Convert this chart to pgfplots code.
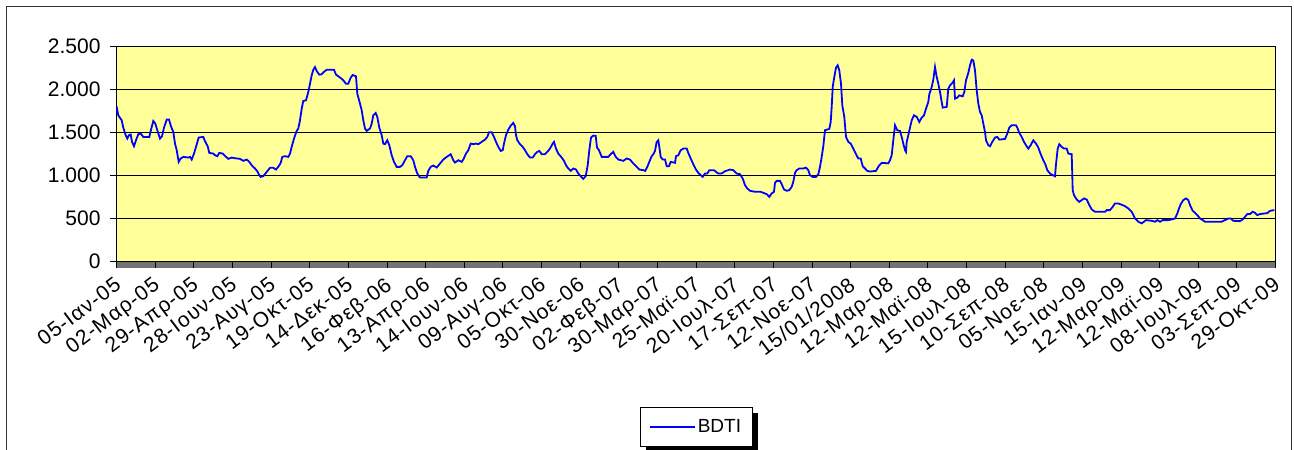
\documentclass[border=0pt]{standalone}
\usepackage{pgfplots}
\pgfplotsset{compat=1.18}
\usepackage{pgfplotstable}
\usepackage{fontspec}
\setmainfont{Liberation Sans}
\newfontfamily\xlabfont[LetterSpace=5]{Liberation Sans}
\pgfdeclarelayer{background}
\pgfsetlayers{background,main}
\definecolor{plotyellow}{RGB}{255,255,153}
\definecolor{bdtiblue}{RGB}{0,0,255}

\pgfplotstableread{
x y
0 1801
1.8 1697
5.2 1639
6.8 1554
9.2 1466
10.8 1427
12.5 1466
14.2 1474
15.5 1389
17.5 1338
19.5 1408
21.8 1477
24.2 1485
26.8 1446
32.8 1446
34.8 1543
36.8 1631
38.8 1601
40.8 1523
43.5 1427
45.5 1454
47.5 1554
50.2 1647
52.5 1647
54.5 1570
56.8 1504
58.5 1369
60.2 1292
62.2 1157
64.2 1196
66.8 1215
71.8 1207
73.5 1215
75.2 1184
77.5 1253
79.5 1331
82.2 1439
86.8 1446
88.8 1389
91.2 1338
92.8 1261
96.8 1253
98.5 1234
100.8 1223
102.8 1261
106.2 1253
108.5 1226
111.8 1192
115.2 1207
118.5 1199
123.5 1192
126.8 1169
130.2 1184
132.8 1157
135.2 1118
138.5 1080
140.8 1049
142.8 1003
144.2 983
146.8 991
150.2 1041
153.5 1088
156.8 1088
159.5 1068
162.2 1107
164.2 1146
165.8 1215
168.5 1223
171.8 1215
173.5 1253
175.2 1331
177.5 1427
180.2 1516
181.8 1543
183.5 1639
185.2 1774
186.8 1863
189.5 1871
191.8 1967
193.5 2063
195.2 2160
196.8 2225
198.5 2256
200.2 2210
202.8 2168
205.2 2172
206.8 2194
210.2 2225
217.5 2225
219.5 2168
222.8 2141
226.2 2110
229.5 2063
231.8 2063
234.2 2133
236.2 2164
239.5 2149
240.8 1948
242.8 1863
245.2 1755
246.8 1639
248.5 1543
250.2 1516
251.8 1531
253.5 1543
255.2 1601
256.8 1697
259.2 1724
260.8 1678
262.8 1554
265.2 1466
266.8 1369
268.5 1362
270.8 1408
272.8 1350
275.2 1234
277.5 1157
280.2 1099
283.5 1099
285.8 1118
288.5 1176
290.8 1223
294.2 1223
296.8 1176
298.5 1099
300.8 1022
303.5 976
310.2 976
311.8 1053
314.2 1099
316.8 1115
320.2 1091
323.5 1138
326.8 1184
330.2 1215
334.2 1246
336.8 1176
338.5 1149
341.8 1176
345.2 1157
346.8 1184
349.5 1253
351.8 1292
354.2 1369
356.8 1362
359.5 1369
361.8 1362
365.2 1389
368.5 1415
370.8 1446
372.5 1500
375.2 1500
377.5 1446
379.5 1389
381.8 1331
384.2 1284
386.2 1292
387.5 1369
389.5 1466
391.8 1531
394.5 1581
396.8 1608
398.5 1570
399.5 1466
400.8 1408
403.5 1362
406.2 1331
408.5 1292
410.8 1246
413.5 1207
416.2 1207
418.5 1246
420.8 1273
422.8 1284
425.2 1246
428.5 1246
430.8 1273
433.5 1311
436.2 1369
437.5 1389
439.5 1311
441.8 1253
445.2 1207
447.5 1169
449.5 1118
451.8 1080
454.2 1053
456.8 1080
459.5 1068
461.8 1022
464.2 991
466.8 960
469.2 991
471.2 1118
472.8 1292
474.5 1439
476.8 1462
479.2 1458
480.5 1323
482.5 1292
485.2 1215
491.8 1215
494.2 1246
496.8 1273
499.2 1215
501.8 1184
506.8 1169
510.2 1196
513.5 1184
516.8 1138
520.2 1099
522.8 1068
526.8 1061
528.8 1053
530.8 1099
532.8 1157
535.2 1223
536.8 1246
538.5 1284
540.2 1389
541.8 1408
542.8 1331
544.2 1215
546.2 1184
548.5 1184
550.2 1107
552.5 1107
554.2 1157
558.5 1146
559.5 1223
561.8 1234
564.2 1292
566.8 1311
570.2 1311
571.8 1261
574.2 1196
576.8 1130
579.5 1068
581.8 1030
584.2 1003
586.2 983
588.5 1022
590.8 1022
592.8 1061
597.5 1061
599.5 1041
601.8 1022
605.2 1022
608.5 1049
613.5 1068
616.8 1061
620.2 1022
623.5 1014
626.2 964
628.5 887
630.8 849
633.5 822
638.5 810
644.2 810
646.8 798
650.2 783
652.8 752
655.2 791
657.5 810
658.5 914
660.2 937
663.5 937
665.2 899
667.5 837
670.2 822
672.8 829
675.2 868
676.8 926
678.5 1030
680.2 1061
682.8 1080
686.8 1080
689.5 1091
691.8 1061
693.5 1003
696.2 983
699.5 983
701.8 1014
703.5 1099
705.2 1215
706.8 1338
708.5 1524
712.8 1539
714.2 1620
715.2 1794
716.2 2025
717.5 2121
719.5 2249
721.2 2276
722.8 2218
724.5 2063
725.8 1813
727.8 1678
729.5 1446
731.8 1389
734.2 1369
736.8 1311
739.5 1246
741.8 1196
744.2 1196
746.2 1107
748.5 1080
750.8 1053
753.5 1045
759.5 1053
760.8 1080
762.8 1118
765.2 1146
771.8 1140
773.5 1176
775.2 1234
776.8 1408
778.5 1581
780.8 1523
783.5 1516
785.2 1446
786.8 1369
788.5 1292
789.5 1273
790.2 1389
791.8 1466
793.5 1554
795.2 1639
797.5 1697
800.2 1678
802.8 1620
805.2 1670
807.5 1697
809.5 1774
811.8 1851
812.8 1940
815.2 2025
816.8 2110
818.5 2256
820.2 2141
821.8 2063
823.5 1967
825.2 1851
826.2 1786
830.2 1794
831.8 2006
833.5 2044
835.8 2071
837.5 2102
838.5 1890
840.8 1901
842.8 1928
846.2 1917
847.8 1967
849.5 2102
851.8 2187
853.5 2276
855.2 2341
856.8 2333
858.5 2218
860.2 1986
861.8 1832
863.5 1736
865.2 1697
866.8 1601
868.5 1504
869.5 1408
871.8 1350
873.5 1338
875.8 1389
878.5 1439
880.8 1446
882.8 1415
888.5 1423
890.8 1485
892.8 1554
895.2 1581
899.5 1581
900.8 1554
902.8 1493
905.2 1446
907.5 1389
909.5 1350
911.8 1311
914.2 1350
916.8 1408
919.5 1369
921.8 1323
924.2 1246
926.8 1176
928.8 1130
930.8 1061
933.5 1022
936.2 1003
938.5 991
939.5 1130
941.2 1311
942.8 1362
945.2 1331
947.5 1311
950.2 1311
951.8 1253
955.2 1246
956.2 829
957.5 771
960.2 721
962.8 694
965.2 714
967.5 733
970.2 721
972.8 656
975.2 606
978.5 579
988.5 579
990.2 598
993.5 598
996.2 636
998.5 675
1001.8 675
1005.2 660
1008.5 644
1011.8 617
1015.2 579
1018.5 501
1021.8 463
1025.2 444
1029.5 482
1035.2 474
1038.5 463
1040.8 482
1043.5 463
1046.2 482
1051.8 482
1055.2 490
1058.5 501
1060.8 559
1062.5 617
1064.2 667
1066.8 714
1069.5 733
1071.8 714
1073.5 656
1076.2 590
1078.5 567
1080.8 540
1083.5 501
1086.2 482
1088.5 463
1105.2 463
1108.5 482
1111.8 501
1114.2 501
1116.8 474
1123.5 470
1126.2 490
1128.5 521
1130.8 552
1133.5 552
1136.2 579
1138.5 567
1140.8 540
1143.5 552
1148.5 560
1150.8 563
1153.5 590
1157.8 598
}\bdti

\begin{document}
\begin{tikzpicture}
\begin{pgfonlayer}{background}
\fill[black!55] (116.5pt,181.8pt) rectangle (1275.6pt,188.3pt);
\foreach \yy in {188.3,231.44,274.58,317.72,360.86,404.0} {
  \draw[black, line width=0.8pt] (110pt,\yy pt) -- (116.5pt,\yy pt);
}
\end{pgfonlayer}
\begin{axis}[
  at={(116.5pt,188.3pt)}, anchor=south west,
  width=1159pt, height=215.7pt, scale only axis,
  xmin=0, xmax=1159, ymin=0, ymax=2500,
  axis background/.style={fill=plotyellow},
  axis line style={black, line width=1pt},
  xtick pos=lower, ytick pos=left,
  ytick={0,500,1000,1500,2000,2500},
  yticklabels={0,500,{1.000},{1.500},{2.000},{2.500}},
  ymajorgrids,
  grid style={black, line width=0.8pt},
  xtick={0,38.633,77.267,115.9,154.533,193.167,231.8,270.433,309.067,347.7,386.333,424.967,463.6,502.233,540.867,579.5,618.133,656.767,695.4,734.033,772.667,811.3,849.933,888.567,927.2,965.833,1004.467,1043.1,1081.733,1120.367,1159},
  xticklabels={05-Ιαν-05,02-Μαρ-05,29-Απρ-05,28-Ιουν-05,23-Αυγ-05,19-Οκτ-05,14-Δεκ-05,16-Φεβ-06,13-Απρ-06,14-Ιουν-06,09-Αυγ-06,05-Οκτ-06,30-Νοε-06,02-Φεβ-07,30-Μαρ-07,25-Μαϊ-07,20-Ιουλ-07,17-Σεπ-07,12-Νοε-07,15/01/2008,12-Μαρ-08,12-Μαϊ-08,15-Ιουλ-08,10-Σεπ-08,05-Νοε-08,15-Ιαν-09,12-Μαρ-09,12-Μαϊ-09,08-Ιουλ-09,03-Σεπ-09,29-Οκτ-09},
  minor x tick num=39,
  tick align=outside,
  major tick length=6.5pt, minor tick length=6.5pt,
  every tick/.append style={draw=black, line width=0.8pt},
  every minor tick/.append style={draw=black!80, line width=0.6pt},
  x tick label style={rotate=37, anchor=north east, font=\xlabfont\fontsize{21}{23}\selectfont, inner sep=1pt, xshift=-6pt, yshift=-3pt},
  y tick label style={font=\fontsize{21}{23}\selectfont, xshift=-6pt},
  legend style={at={(0.5,-0.766)}, anchor=center, draw=black, line width=0.8pt, fill=white,
    font=\fontsize{19}{21}\selectfont, inner xsep=9pt, inner ysep=10pt, name=leg},
  legend image code/.code={\draw[#1] (0pt,0pt) -- (45pt,0pt);},
]
\addplot[bdtiblue, line width=1.8pt] table[x=x, y=y] {\bdti};
\addlegendentry{BDTI}
\end{axis}
\begin{pgfonlayer}{background}
\fill[black] ([shift={(6pt,-6pt)}]leg.south west) rectangle ([shift={(6pt,-6pt)}]leg.north east);
\end{pgfonlayer}
\draw[line width=1pt, black!80] (6.5pt,-20pt) -- (6.5pt,443.5pt) -- (1291pt,443.5pt) -- (1291pt,-20pt);
\pgfresetboundingbox
\path[use as bounding box] (0pt,0pt) rectangle (1294pt,450pt);
\end{tikzpicture}
\end{document}
